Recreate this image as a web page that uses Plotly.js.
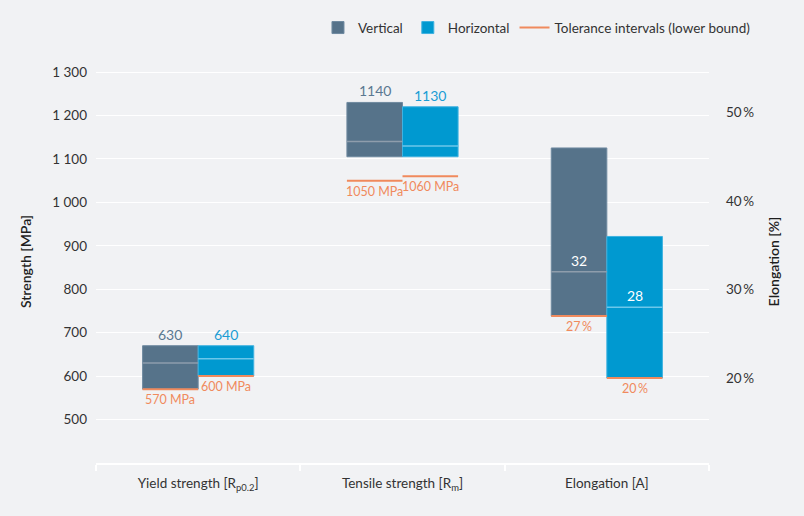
<!DOCTYPE html>
<html>
<head>
<meta charset="utf-8">
<script src="https://cdn.plot.ly/plotly-3.0.1.min.js"></script>
<style>
  html, body { margin: 0; padding: 0; background: #f1f2f4; }
  #chart { width: 804px; height: 516px; }
</style>
</head>
<body>
<div id="chart"></div>
<script>
// categories on the x axis (first two use the MPa axis, the last one the % axis)
const categories = ['Yield strength [R<sub>p0.2</sub>]', 'Tensile strength [R<sub>m</sub>]', 'Elongation [A]'];
const units = ' MPa';
const pct = '\u2009%';

// range of measured values (bar from min to max), mean value, lower tolerance bound
const vertMin = [570, 1105, 27];
const vertMax = [670, 1230, 46];
const vertMean = [630, 1140, 32];
const vertLower = [570, 1050, 27];

const horMin = [600, 1105, 20];
const horMax = [670, 1220, 36];
const horMean = [640, 1130, 28];
const horLower = [600, 1060, 20];

const leftTicks = [500, 600, 700, 800, 900, 1000, 1100, 1200, 1300];
const rightTicks = [20, 30, 40, 50];

const BAR_W = 0.272;
const TOL = '#f08a5d';
const FONT = 'Lato, Noto Sans, sans-serif';

const series = [
    {name: 'Vertical', color: '#56738a', edge: '#6f8aa0', meanColor: '#8e9dac', labelColor: '#5a7891',
        off: -BAR_W, min: vertMin, max: vertMax, mean: vertMean, lower: vertLower},
    {name: 'Horizontal', color: '#0099d0', edge: '#3fb2e0', meanColor: '#6cc7ea', labelColor: '#1a9dd4',
        off: 0, min: horMin, max: horMax, mean: horMean, lower: horLower}
];

const axisOf = i => i < 2 ? 'y' : 'y2';
const unitOf = i => i < 2 ? units : pct;

const traces = [];
const annotations = [];

// range bars
series.forEach(s => {
    ['y', 'y2'].forEach((ax, k) => {
        const idx = [0, 1, 2].filter(i => axisOf(i) === ax);
        traces.push({
            type: 'bar',
            name: s.name,
            legendgroup: s.name,
            showlegend: k === 0,
            x: idx,
            base: idx.map(i => s.min[i]),
            y: idx.map(i => s.max[i] - s.min[i]),
            width: BAR_W,
            offset: s.off,
            yaxis: ax,
            marker: {color: s.color, line: {color: s.edge, width: 1}},
            hoverinfo: 'skip'
        });
    });
});

// mean lines inside the bars
series.forEach(s => {
    s.mean.forEach((m, i) => {
        traces.push({
            type: 'scatter', mode: 'lines',
            x: [i + s.off, i + s.off + BAR_W], y: [m, m],
            yaxis: axisOf(i),
            line: {color: s.meanColor, width: 1.5},
            showlegend: false, hoverinfo: 'skip'
        });
    });
});

// lower bounds of the tolerance intervals
let first = true;
series.forEach(s => {
    s.lower.forEach((v, i) => {
        traces.push({
            type: 'scatter', mode: 'lines',
            name: 'Tolerance intervals (lower bound)',
            legendgroup: 'tol',
            showlegend: first,
            x: [i + s.off, i + s.off + BAR_W], y: [v, v],
            yaxis: axisOf(i),
            line: {color: TOL, width: 2},
            hoverinfo: 'skip'
        });
        first = false;
    });
});

// value labels
series.forEach(s => {
    s.mean.forEach((m, i) => {
        const inside = i === 2;
        annotations.push({
            x: i + s.off + BAR_W / 2, y: inside ? m : s.max[i],
            xref: 'x', yref: axisOf(i),
            text: String(m), showarrow: false,
            yanchor: 'bottom', yshift: 1,
            font: {family: FONT, size: 14, color: inside ? '#ffffff' : s.labelColor}
        });
    });
    s.lower.forEach((v, i) => {
        annotations.push({
            x: i + s.off + BAR_W / 2, y: v,
            xref: 'x', yref: axisOf(i),
            text: v + unitOf(i), showarrow: false,
            yanchor: 'top', yshift: -1,
            font: {family: FONT, size: 12.5, color: TOL}
        });
    });
});

const layout = {
    width: 804,
    height: 516,
    margin: {l: 96, r: 95, t: 60, b: 53},
    paper_bgcolor: '#f1f2f4',
    plot_bgcolor: '#f1f2f4',
    font: {family: FONT, size: 13, color: '#333333'},
    separators: '. ',
    barmode: 'overlay',
    showlegend: true,
    legend: {
        orientation: 'h',
        x: 1.075, xanchor: 'right',
        y: 1.08, yanchor: 'middle',
        bgcolor: 'rgba(0,0,0,0)',
        itemwidth: 30,
        traceorder: 'normal',
        font: {family: FONT, size: 13.5, color: '#333333'}
    },
    xaxis: {
        range: [-0.5, 2.5],
        tickvals: [0, 1, 2],
        ticktext: categories,
        ticks: '',
        ticklabelstandoff: 7,
        tickfont: {size: 13.5},
        showgrid: false,
        zeroline: false,
        showline: true,
        linecolor: '#ffffff',
        linewidth: 2,
        minor: {tickvals: [-0.5, 0.5, 1.5, 2.5], ticks: 'outside', ticklen: 6, tickwidth: 2,
            tickcolor: '#ffffff', showgrid: false},
        fixedrange: true
    },
    yaxis: {
        range: [400, 1327.7],
        tickvals: leftTicks,
        separatethousands: true,
        ticks: '',
        ticklabelstandoff: 8,
        tickfont: {size: 13.5},
        showgrid: true,
        gridcolor: '#ffffff',
        gridwidth: 1,
        zeroline: false,
        title: {text: 'Strength [MPa]', standoff: 17,
            font: {family: FONT, size: 14, color: '#1e1e1e', weight: 600}},
        fixedrange: true
    },
    yaxis2: {
        overlaying: 'y',
        side: 'right',
        range: [10.4, 55.94],
        tickvals: rightTicks,
        ticktext: rightTicks.map(v => v + pct),
        ticks: '',
        ticklabelstandoff: 16,
        tickfont: {size: 13.5},
        showgrid: false,
        zeroline: false,
        title: {text: 'Elongation [%]', standoff: 15,
            font: {family: FONT, size: 14, color: '#1e1e1e', weight: 600}},
        fixedrange: true
    },
    annotations: annotations
};

Plotly.newPlot('chart', traces, layout, {displayModeBar: false, staticPlot: true});
</script>
</body>
</html>
